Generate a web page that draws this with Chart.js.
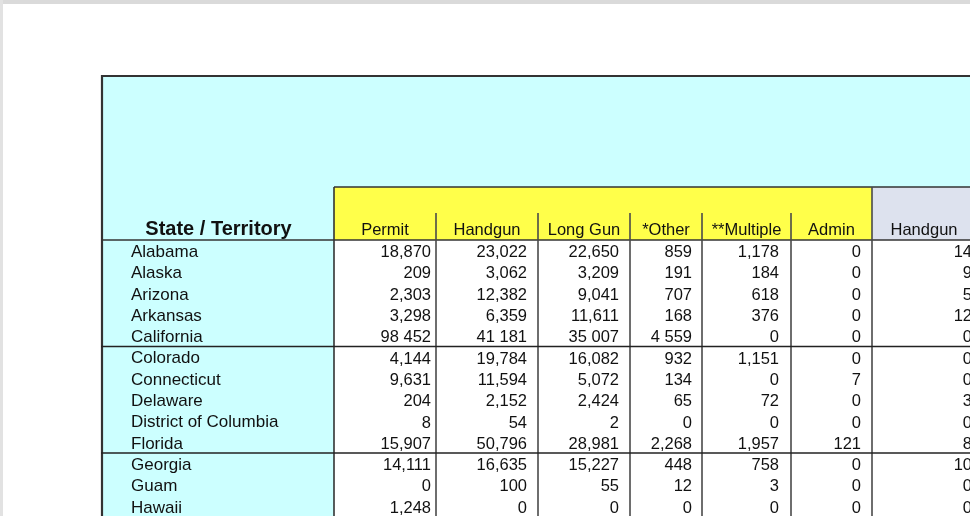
<!DOCTYPE html>
<html><head><meta charset="utf-8">
<script src="https://cdn.jsdelivr.net/npm/chart.js@4.4.1/dist/chart.umd.min.js"></script>
<style>
html,body{margin:0;padding:0;background:#fff;overflow:hidden}
#wrap{position:relative;width:970px;height:516px}
#c{position:absolute;left:0;top:0}
.frameTop{position:absolute;left:0;top:0;width:970px;height:4px;background:#dadada}
.frameLeft{position:absolute;left:0;top:0;width:3px;height:516px;background:#e2e2e2}
</style></head><body>
<div id="wrap"><canvas id="c" width="970" height="516"></canvas><div class="frameTop"></div><div class="frameLeft"></div></div>
<script>
// ---------- DATA ----------
const stateHeader = 'State / Territory';
const states = ['Alabama','Alaska','Arizona','Arkansas','California','Colorado','Connecticut','Delaware','District of Columbia','Florida','Georgia','Guam','Hawaii'];
const columnLabels = ['Permit','Handgun','Long Gun','*Other','**Multiple','Admin','Handgun'];
const permit   = [18870, 209, 2303, 3298, 98452, 4144, 9631, 204, 8, 15907, 14111, 0, 1248];
const handgun  = [23022, 3062, 12382, 6359, 41181, 19784, 11594, 2152, 54, 50796, 16635, 100, 0];
const longGun  = [22650, 3209, 9041, 11611, 35007, 16082, 5072, 2424, 2, 28981, 15227, 55, 0];
const other    = [859, 191, 707, 168, 4559, 932, 134, 65, 0, 2268, 448, 12, 0];
const multiple = [1178, 184, 618, 376, 0, 1151, 0, 72, 0, 1957, 758, 3, 0];
const admin    = [0, 0, 0, 0, 0, 0, 7, 0, 0, 121, 0, 0, 0];
const handgun2 = [14, 9, 5, 12, 0, 0, 0, 3, 0, 8, 10, 0, 0];
const spaceGroupedStates = ['California'];
const groupSize = 5;

// ---------- LAYOUT / STYLE ----------
const COL_W = [233, 102, 102, 92, 72, 89, 81, 104];
const PAD_R = [5, 11, 11, 10, 12, 11, 4];
const ROW_H = 21.3;
const HEADER_H = 165, YELLOW_H = 53, DIV_H = 27;
const CYAN = '#CCFFFF', YELLOW = '#FFFF4A', GRAYBLUE = '#DDE2EE';
const FONT = '"Liberation Sans", Arial, sans-serif';
const edges = COL_W.reduce((a, w) => { a.push(a[a.length - 1] + w); return a; }, [0]);
const series = [permit, handgun, longGun, other, multiple, admin, handgun2];

function fmt(v, state) {
  const s = v.toLocaleString('en-US');
  return spaceGroupedStates.includes(state) ? s.replace(/,/g, ' ') : s;
}

const datasets = [{
  label: 'State',
  data: states.map((s, r) => ({ x: 30, y: r + 0.5 })),
  pointRadius: 0
}].concat(series.map((vals, c) => ({
  label: columnLabels[c],
  data: vals.map((v, r) => ({ x: edges[c + 2] - PAD_R[c], y: r + 0.5 })),
  pointRadius: 0
})));

const yMin = -HEADER_H / ROW_H;
const yMax = yMin + 441 / ROW_H;

const tablePlugin = {
  id: 'table',
  beforeDatasetsDraw(chart) {
    const { ctx, chartArea: a, scales: { x, y } } = chart;
    const px = v => x.getPixelForValue(v), py = v => y.getPixelForValue(v);
    ctx.save();
    ctx.fillStyle = CYAN;
    ctx.fillRect(a.left, a.top, a.right - a.left, a.bottom - a.top);
    const top0 = py(0), yTop = py(-YELLOW_H / ROW_H);
    ctx.fillStyle = '#fff';
    ctx.fillRect(px(edges[1]), top0, a.right - px(edges[1]), a.bottom - top0);
    ctx.fillStyle = YELLOW;
    ctx.fillRect(px(edges[1]), yTop, px(edges[7]) - px(edges[1]), top0 - yTop);
    ctx.fillStyle = GRAYBLUE;
    ctx.fillRect(px(edges[7]), yTop, a.right - px(edges[7]), top0 - yTop);

    ctx.strokeStyle = '#333';
    const line = (x1, y1, x2, y2, w) => { ctx.lineWidth = w; ctx.beginPath(); ctx.moveTo(x1, y1); ctx.lineTo(x2, y2); ctx.stroke(); };
    // outer border
    line(a.left, a.top + 1, a.right, a.top + 1, 2.2);
    line(a.left + 1, a.top, a.left + 1, a.bottom, 2.2);
    // yellow box top + left
    line(px(edges[1]), yTop, a.right, yTop, 1.6);
    line(px(edges[1]), yTop, px(edges[1]), a.bottom, 1.6);
    // header bottom
    line(a.left, top0, a.right, top0, 1.4);
    // column dividers
    ctx.strokeStyle = '#4a4a4a';
    for (let c = 2; c < edges.length - 1; c++) {
      const start = c === 7 ? yTop : py(-DIV_H / ROW_H);
      line(px(edges[c]), start, px(edges[c]), a.bottom, 1.6);
    }
    // group separators
    ctx.strokeStyle = '#222';
    for (let r = groupSize; r < states.length; r += groupSize) {
      line(a.left, py(r), a.right, py(r), 1.4);
    }
    ctx.restore();
  },
  afterDatasetsDraw(chart) {
    const { ctx, scales: { x, y } } = chart;
    const px = v => x.getPixelForValue(v), py = v => y.getPixelForValue(v);
    ctx.save();
    ctx.fillStyle = '#111';
    ctx.textBaseline = 'alphabetic';
    // headers
    const hb = py(0) - 5;
    ctx.font = 'bold 20px ' + FONT;
    ctx.textAlign = 'center';
    ctx.fillText(stateHeader, px((edges[0] + edges[1]) / 2) + 1, hb);
    ctx.font = '16.5px ' + FONT;
    columnLabels.forEach((lab, c) => ctx.fillText(lab, px((edges[c + 1] + edges[c + 2]) / 2), hb));
    // cells
    chart.data.datasets.forEach((ds, i) => {
      const meta = chart.getDatasetMeta(i);
      meta.data.forEach((pt, r) => {
        if (i === 0) {
          ctx.font = '17px ' + FONT;
          ctx.textAlign = 'left';
          ctx.fillText(states[r], pt.x, pt.y + 6.3);
        } else {
          ctx.font = '16.5px ' + FONT;
          ctx.textAlign = 'right';
          ctx.fillText(fmt(series[i - 1][r], states[r]), pt.x, pt.y + 6.5);
        }
      });
    });
    ctx.restore();
  }
};

new Chart(document.getElementById('c'), {
  type: 'scatter',
  data: { datasets },
  options: {
    responsive: false,
    animation: false,
    devicePixelRatio: 1,
    layout: { padding: { left: 101, top: 75, right: 0, bottom: 0 } },
    plugins: { legend: { display: false }, tooltip: { enabled: false } },
    scales: {
      x: { type: 'linear', min: 0, max: 869, display: false },
      y: { type: 'linear', min: yMin, max: yMax, reverse: true, display: false }
    }
  },
  plugins: [tablePlugin]
});
</script>
</body></html>
